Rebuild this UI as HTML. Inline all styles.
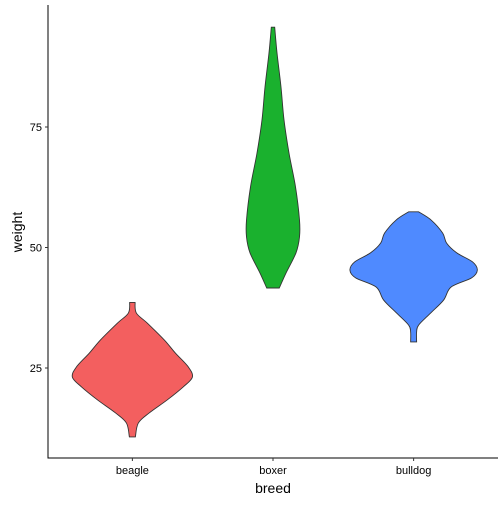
<!DOCTYPE html>
<html><head><meta charset="utf-8"><style>
body{margin:0;background:#fff}
svg text{font-family:"Liberation Sans",Arial,sans-serif}
</style></head><body>
<svg id="chart" width="504" height="504" viewBox="0 0 504 504"></svg>
<script>
const categories=["beagle","boxer","bulldog"];
const colors=["#F35F5F","#1AB12E","#4F8AFF"];
const beagleWeights=[38.6,36.4,34.3,30.8,28.1,25.2,23.1,21.1,18.4,15.7,13.6,10.7];
const beagleDensity=[2.7,4,15,32,43,56,60,51,35,17,6,3];
const boxerWeights=[95.7,90.4,83.3,76.5,69.6,62.6,55.7,52.2,48.9,44.7,41.6];
const boxerDensity=[1.7,4,8,11,16,22.5,26.5,26.5,23,13,6.3];
const bulldogWeights=[57.4,55.7,53.0,50.9,48.9,47.0,45.3,43.7,41.8,39.1,36.4,33.9,32.5,30.4];
const bulldogDensity=[5,17.5,29,33,43,59,63.7,58,37.5,30,17,5,3,3];
const yTicks=[25,50,75];

const NS="http://www.w3.org/2000/svg";
const svg=document.getElementById("chart");
const L=48,R=498,T=5,B=458;
const yScale=v=>368-(v-25)*4.82;
const xScale=i=>L+(i+0.6)/3.2*(R-L);
function mk(tag,attrs,parent){const e=document.createElementNS(NS,tag);for(const k in attrs)e.setAttribute(k,attrs[k]);(parent||svg).appendChild(e);return e;}
function smooth(pts){let d="";for(let i=0;i<pts.length-1;i++){const p0=pts[Math.max(i-1,0)],p1=pts[i],p2=pts[i+1],p3=pts[Math.min(i+2,pts.length-1)];
const c1=[p1[0]+(p2[0]-p0[0])/6,p1[1]+(p2[1]-p0[1])/6],c2=[p2[0]-(p3[0]-p1[0])/6,p2[1]-(p3[1]-p1[1])/6];
d+=` C${c1[0]},${c1[1]} ${c2[0]},${c2[1]} ${p2[0]},${p2[1]}`;}return d;}
const series=[[beagleWeights,beagleDensity],[boxerWeights,boxerDensity],[bulldogWeights,bulldogDensity]];
series.forEach(([w,d],i)=>{
  const cx=xScale(i);
  const right=w.map((v,k)=>[cx+d[k],yScale(v)]);
  const left=w.map((v,k)=>[cx-d[k],yScale(v)]).reverse();
  let p=`M${right[0][0]},${right[0][1]}`+smooth(right)+` L${left[0][0]},${left[0][1]}`+smooth(left)+" Z";
  const el=mk("path",{d:p,fill:colors[i],stroke:"#333","stroke-width":"0.9"});
  
  
});
const ax=mk("path",{d:`M${L},${T}V${B}H${R}`,fill:"none",stroke:"#000","stroke-width":"1"});


yTicks.forEach(t=>{
  const y=yScale(t);
  mk("line",{x1:L-3,x2:L,y1:y,y2:y,stroke:"#333"});
  const tx=mk("text",{x:L-6,y:y+4,"text-anchor":"end","font-size":"11",fill:"#000"});
  tx.textContent=t;
  
  
});
categories.forEach((c,i)=>{
  const x=xScale(i);
  mk("line",{x1:x,x2:x,y1:B,y2:B+3,stroke:"#333"});
  const tx=mk("text",{x:x,y:474,"text-anchor":"middle","font-size":"11",fill:"#000"});
  tx.textContent=c;
  
  
});
const xt=mk("text",{x:273,y:493,"text-anchor":"middle","font-size":"14",fill:"#000"});
xt.textContent="breed";


const yt=mk("text",{x:0,y:0,"text-anchor":"middle","font-size":"14",fill:"#000",transform:"translate(22,232) rotate(-90)"});
yt.textContent="weight";


</script>
</body></html>
